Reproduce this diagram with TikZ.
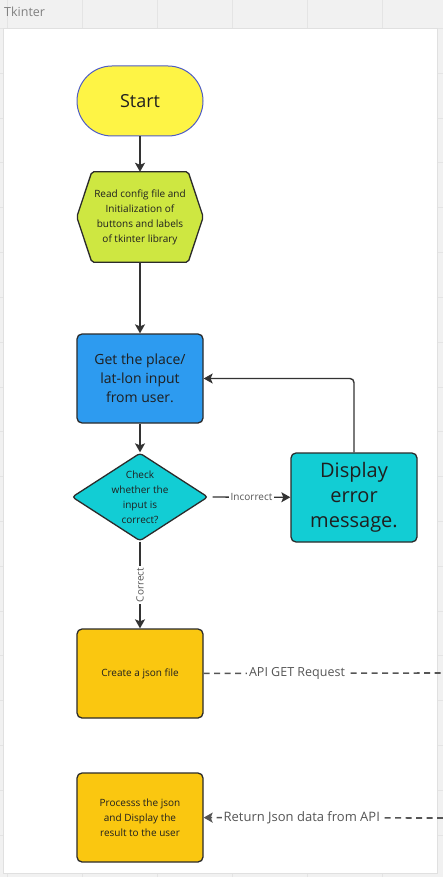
\documentclass[tikz,border=0pt]{standalone}
\usepackage{fontspec}
\setmainfont{Open Sans}
\usetikzlibrary{arrows.meta,shapes.geometric}
\definecolor{canvas}{HTML}{F1F1F1}
\definecolor{gridline}{HTML}{E4E4E4}
\definecolor{panelline}{HTML}{E0E0E0}
\definecolor{startyellow}{HTML}{FEF445}
\definecolor{startline}{HTML}{4F5DC4}
\definecolor{limegreen}{HTML}{CEE741}
\definecolor{inputblue}{HTML}{2D9BF0}
\definecolor{checkcyan}{HTML}{12CDD4}
\definecolor{jsonamber}{HTML}{FAC710}
\definecolor{boxline}{HTML}{2B2B2B}
\definecolor{linegray}{HTML}{333333}
\definecolor{ink}{HTML}{1F1F1F}
\definecolor{tagcolor}{HTML}{555555}
\begin{document}
\begin{tikzpicture}[x=1pt,y=-1pt,
	flow/.style={draw=linegray,line width=1.4pt,-{Stealth[length=9pt,width=10pt,inset=2pt]}},
	dashline/.style={draw=tagcolor,line width=1.6pt,dash pattern=on 6pt off 4.5pt},
	box/.style={draw=boxline,line width=1.3pt,rounded corners=5pt,minimum width=126pt,minimum height=89pt,inner sep=0pt,text=ink,align=center},
	small/.style={font=\fontsize{10}{15}\selectfont},
	tag/.style={fill=white,text=tagcolor,inner sep=2pt}]
	% canvas and board
	\useasboundingbox (0,0) rectangle (443,877);
	\fill [canvas] (0,0) rectangle (443,877);
	\foreach \gx in {7,82,...,457} \draw [gridline] (\gx,0) -- (\gx,877);
	\foreach \gy in {28.3,73.1,...,877} \draw [gridline] (0,\gy) -- (443,\gy);
	\node [anchor=west,text=gray,font=\fontsize{12.5}{14}\selectfont,inner sep=0pt] (title) at (4,12) {Tkinter};
	\draw [panelline,fill=white] (3,28) rectangle (437,873);
	% nodes
	\node [box,fill=startyellow,draw=startline,line width=1pt,rounded corners=35pt,minimum height=70pt,font=\fontsize{18}{22}\selectfont] (start) at (140,101) {Start};
	\node [minimum width=126pt,minimum height=90pt,inner sep=0pt] (init) at (140,217) {};
	\draw [boxline,fill=limegreen,line width=1.3pt,rounded corners=2pt] (init.west) -- ([xshift=15pt]init.north west) -- ([xshift=-15pt]init.north east) -- (init.east) -- ([xshift=-15pt]init.south east) -- ([xshift=15pt]init.south west) -- cycle;
	\node [small,align=center,text=ink] at (init) {Read config file and\\Initialization of\\buttons and labels\\of tkinter library};
	\node [box,fill=inputblue,font=\fontsize{14}{19}\selectfont] (place) at (140,378.5) {Get the place/\\lat-lon input\\from user.};
	\node [diamond,draw=boxline,fill=checkcyan,line width=1.3pt,rounded corners=3pt,minimum width=136pt,minimum height=88pt,inner sep=0pt] (check) at (140,497) {};
	\node [small,align=center,text=ink] at (check) {Check\\whether the\\input is\\correct?};
	\node [box,fill=checkcyan,font=\fontsize{20}{25}\selectfont] (err) at (354,497.5) {Display\\error\\message.};
	\node [box,fill=jsonamber,small] (json) at (140,673.5) {Create a json file};
	\node [box,fill=jsonamber,small] (proc) at (140,817.5) {Processs the json\\and Display the\\result to the user};
	\coordinate (apiout) at (443,673);
	\coordinate (apiin) at (443,818);
	% connectors
	\draw [flow] (start) -- (init);
	\draw [flow] (init) -- (place);
	\draw [flow] (place) -- (check);
	\draw [flow] ([xshift=4pt]check.east) -- node [tag,small] {Incorrect} (err);
	\draw [flow,rounded corners=4pt] (err.north) |- (place.east);
	\draw [flow] (check) -- node [tag,small,rotate=90] {Correct} (json);
	\draw [dashline] (json) -- node [tag,pos=0.39,font=\fontsize{12.5}{15}\selectfont] {API GET Request} (apiout);
	\draw [dashline,-{Stealth[length=9pt,width=10pt,inset=2pt]}] (apiin) -- node [tag,pos=0.59,font=\fontsize{13}{15}\selectfont] {Return Json data from API} (proc);
\end{tikzpicture}
\end{document}
